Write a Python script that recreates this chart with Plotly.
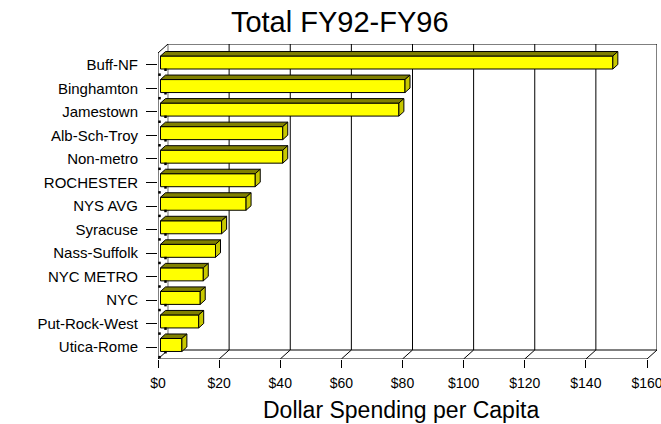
import plotly.graph_objects as go

# ---- data ----
categories = ["Buff-NF", "Binghamton", "Jamestown", "Alb-Sch-Troy", "Non-metro",
              "ROCHESTER", "NYS AVG", "Syracuse", "Nass-Suffolk", "NYC METRO",
              "NYC", "Put-Rock-West", "Utica-Rome"]
values = [148, 80, 78, 40, 40, 31, 28, 20, 18, 14, 13, 12.5, 7]
tick_vals = [0, 20, 40, 60, 80, 100, 120, 140, 160]
tick_text = ["$0", "$20", "$40", "$60", "$80", "$100", "$120", "$140", "$160"]

# ---- geometry (3D look) ----
XMAX = 160
DX = 3.27      # depth offset in dollars
DY = 0.382     # depth offset in category units
BAR_H = 0.552
n = len(categories)
ypos = [n - 1 - i for i in range(n)]   # Buff-NF at top
YMIN = -0.5
YMAX_FRONT = n - 0.5

FONT = "Liberation Sans, Arial, sans-serif"
fig = go.Figure()

# front faces as real bars
fig.add_trace(go.Bar(
    y=[p + 0.25 * DY for p in ypos], x=values, base=0.25 * DX,
    orientation="h", width=BAR_H,
    marker=dict(color="#FFFF00", line=dict(color="#000000", width=1)),
    hoverinfo="skip", showlegend=False))

# top and side faces
for p, v in zip(ypos, values):
    yb = p - BAR_H / 2 + 0.25 * DY
    yt = p + BAR_H / 2 + 0.25 * DY
    x0 = 0.25 * DX
    x1 = v + 0.25 * DX
    fig.add_trace(go.Scatter(
        x=[x0, x1, x1 + 0.5 * DX, x0 + 0.5 * DX, x0],
        y=[yt, yt, yt + 0.5 * DY, yt + 0.5 * DY, yt],
        mode="lines", fill="toself", fillcolor="#808000",
        line=dict(color="#000000", width=1), hoverinfo="skip", showlegend=False))
    fig.add_trace(go.Scatter(
        x=[x1, x1, x1 + 0.5 * DX, x1 + 0.5 * DX, x1],
        y=[yb, yt, yt + 0.5 * DY, yb + 0.5 * DY, yb],
        mode="lines", fill="toself", fillcolor="#C8C800",
        line=dict(color="#000000", width=1), hoverinfo="skip", showlegend=False))
    # little shadow dots on left wall
    fig.add_trace(go.Scatter(
        x=[0.15 * DX, 0.75 * DX],
        y=[yb - 0.24, yb - 0.03],
        mode="markers", marker=dict(symbol="square", size=2.5, color="#000000"),
        hoverinfo="skip", showlegend=False))

# frame / grid as shapes below the bars
shapes = []
line_k = dict(color="#000000", width=1)
line_g = dict(color="#707070", width=1)
yb_back = YMIN + DY
yt_back = YMAX_FRONT + DY
for t in tick_vals:
    shapes.append(dict(type="line", xref="x", yref="y", layer="below",
                       x0=t + DX, x1=t + DX, y0=yb_back, y1=yt_back,
                       line=line_g if t == 0 else line_k))
    shapes.append(dict(type="line", xref="x", yref="y", layer="below",
                       x0=t, x1=t + DX, y0=YMIN, y1=yb_back, line=line_k))
shapes.append(dict(type="line", xref="x", yref="y", layer="below",
                   x0=DX, x1=XMAX + DX, y0=yt_back, y1=yt_back, line=line_k))
shapes.append(dict(type="line", xref="x", yref="y", layer="below",
                   x0=DX, x1=XMAX + DX, y0=yb_back, y1=yb_back, line=line_k))
shapes.append(dict(type="line", xref="x", yref="y", layer="below",
                   x0=0, x1=XMAX, y0=YMIN, y1=YMIN, line=line_k))
shapes.append(dict(type="line", xref="x", yref="y", layer="below",
                   x0=0, x1=0, y0=YMIN, y1=YMAX_FRONT, line=line_k))
shapes.append(dict(type="line", xref="x", yref="y", layer="below",
                   x0=0, x1=DX, y0=YMAX_FRONT, y1=yt_back, line=line_k))

fig.update_layout(
    width=661, height=424,
    margin=dict(l=158, r=4, t=44, b=65, autoexpand=False),
    paper_bgcolor="white", plot_bgcolor="white",
    shapes=shapes,
    title=dict(text="Total FY92-FY96", x=0.514, xanchor="center",
               y=0.948, yanchor="middle",
               font=dict(family=FONT, size=29, color="#000000")),
    font=dict(family=FONT, color="#000000"),
    showlegend=False,
    annotations=[dict(text="Dollar Spending per Capita", xref="paper", yref="paper",
                      x=0.487, y=-0.162, xanchor="center", yanchor="middle",
                      showarrow=False,
                      font=dict(family=FONT, size=23, color="#000000"))],
)
fig.update_xaxes(
    range=[0, XMAX + DX], tickvals=tick_vals, ticktext=tick_text,
    ticks="outside", ticklen=8, tickcolor="#000000", tickwidth=1,
    showgrid=False, zeroline=False, showline=False, automargin=False,
    tickfont=dict(family=FONT, size=14, color="#000000"),
    ticklabelstandoff=3, ticklabeloverflow="allow",
)
fig.update_yaxes(
    range=[YMIN, YMAX_FRONT + DY], tickvals=ypos, ticktext=categories,
    ticks="outside", ticklen=11, tickcolor="#000000", tickwidth=1,
    showgrid=False, zeroline=False, showline=False, automargin=False,
    tickfont=dict(family=FONT, size=15, color="#000000"),
    ticklabelstandoff=5,
)

fig.write_html("out.html")
